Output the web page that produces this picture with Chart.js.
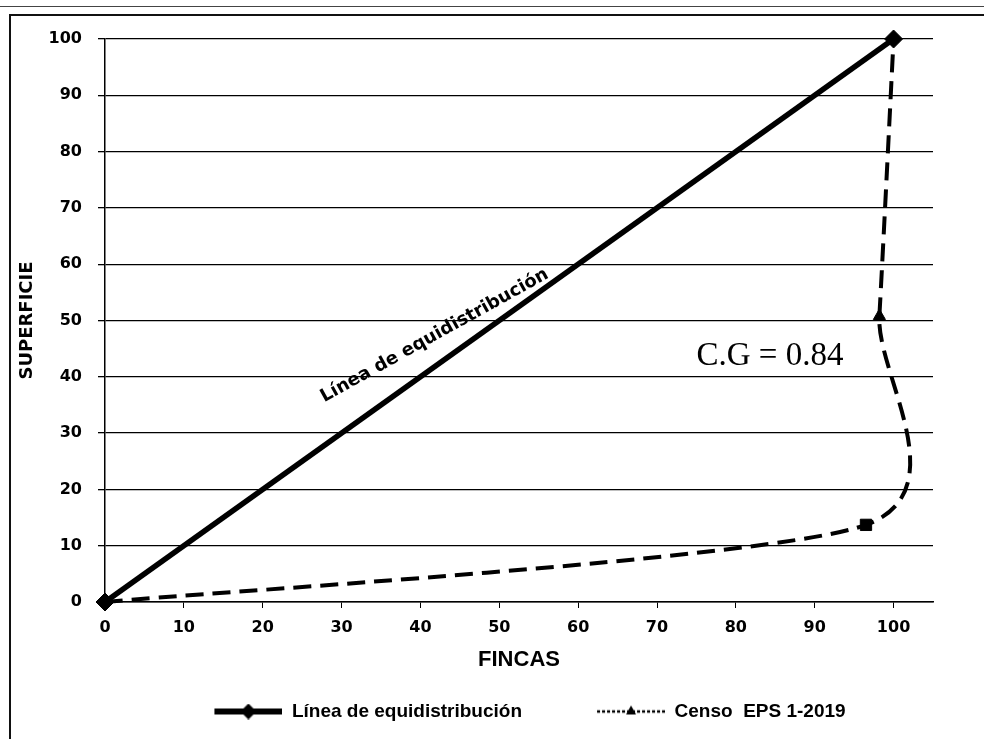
<!DOCTYPE html>
<html>
<head>
<meta charset="utf-8">
<script src="https://cdn.jsdelivr.net/npm/chart.js"></script>
<style>
    html, body { margin: 0; padding: 0; background: #fff; }
    #wrap { position: relative; width: 984px; height: 739px; overflow: hidden; }
    #frame { position: absolute; left: 9px; top: 14px; right: -5px; bottom: -5px;
             border-left: 2px solid #111; border-top: 2px solid #111; }
    #topline { position: absolute; left: 0; right: 0; top: 6px; border-top: 1px solid #444; }
    canvas { position: absolute; left: 0; top: 0; }
</style>
</head>
<body>
<div id="wrap">
    <div id="topline"></div>
    <div id="frame"></div>
    <canvas id="lorenz" width="984" height="739"></canvas>
</div>

<script>
    // Curva de Lorenz
    const equiX = [0, 100];
    const equiY = [0, 100];
    const censoX = [0, 96.5, 98.2, 100];
    const censoY = [0, 13.7, 50.8, 100];
    const seriesNames = ['Línea de equidistribución', 'Censo  EPS 1-2019'];
    const xTitle = 'FINCAS';
    const yTitle = 'SUPERFICIE';
    const giniText = 'C.G = 0.84';

    const SMOOTH = 0.12;   // Excel-like smoothing factor (uniform Catmull-Rom)

    const toPoints = (xs, ys) => xs.map((x, i) => ({ x: x, y: ys[i] }));

    // legend icons: line sample with marker in the middle
    function legendIcon(dashed) {
        const c = document.createElement('canvas');
        c.width = 125;
        c.height = 16;
        const ctx = c.getContext('2d');
        ctx.strokeStyle = '#000';
        ctx.fillStyle = '#000';
        if (dashed) {
            ctx.lineWidth = 2.5;
            ctx.setLineDash([3, 2]);
        } else {
            ctx.lineWidth = 6;
        }
        ctx.beginPath();
        ctx.moveTo(57, 8);
        ctx.lineTo(125, 8);
        ctx.stroke();
        ctx.setLineDash([]);
        ctx.beginPath();
        if (dashed) {
            ctx.moveTo(91, 2); ctx.lineTo(96, 11); ctx.lineTo(86, 11);
        } else {
            ctx.moveTo(91, 0); ctx.lineTo(99, 8); ctx.lineTo(91, 16); ctx.lineTo(83, 8);
        }
        ctx.closePath();
        ctx.fill();
        return c;
    }
    const legendIcons = [legendIcon(false), legendIcon(true)];

    // smoothing like the spreadsheet: control points from neighbours
    const excelSmooth = {
        id: 'excelSmooth',
        beforeDatasetDraw(chart, args) {
            if (args.index !== 1) return;
            const line = args.meta.dataset;
            line.updateControlPoints(chart.chartArea, 'x');
            const pts = args.meta.data;
            for (let i = 0; i < pts.length; i++) {
                const prev = pts[i - 1] || pts[i];
                const next = pts[i + 1] || pts[i];
                const dx = next.x - prev.x, dy = next.y - prev.y;
                pts[i].cp1x = pts[i].x - SMOOTH * dx;
                pts[i].cp1y = pts[i].y - SMOOTH * dy;
                pts[i].cp2x = pts[i].x + SMOOTH * dx;
                pts[i].cp2y = pts[i].y + SMOOTH * dy;
            }
        }
    };

    const moveLegend = {
        id: 'moveLegend',
        afterLayout(chart) {
            const lg = chart.legend;
            lg.left += 30; lg.right += 30;
            lg.top += 2; lg.bottom += 2;
        }
    };

    const annotations = {
        id: 'annotations',
        afterDatasetsDraw(chart) {
            const ctx = chart.ctx;
            const xs = chart.scales.x, ys = chart.scales.y;
            ctx.save();
            ctx.fillStyle = '#000';
            ctx.translate(xs.getPixelForValue(41.8), ys.getPixelForValue(47.3));
            ctx.rotate(-29 * Math.PI / 180);
            ctx.font = 'bold 18px "DejaVu Sans"';
            ctx.textAlign = 'center';
            ctx.textBaseline = 'middle';
            ctx.fillText(seriesNames[0], 0, 0);
            ctx.restore();

            ctx.save();
            ctx.fillStyle = '#000';
            ctx.font = '33px "Liberation Serif"';
            ctx.textAlign = 'left';
            ctx.textBaseline = 'middle';
            ctx.fillText(giniText, xs.getPixelForValue(75.0), ys.getPixelForValue(43.6));
            ctx.restore();
        }
    };

    const tickFont = { family: '"DejaVu Sans"', size: 16, weight: 'bold' };
    const narrowFont = '"Liberation Sans Narrow", "Liberation Sans", sans-serif';

    const config = {
        type: 'scatter',
        data: {
            datasets: [{
                label: seriesNames[0],
                data: toPoints(equiX, equiY),
                showLine: true,
                clip: false,
                borderColor: '#000',
                backgroundColor: '#000',
                borderWidth: 5.5,
                pointStyle: 'rectRot',
                pointRadius: 9,
                pointBorderWidth: 1,
                order: 0
            }, {
                label: seriesNames[1],
                data: toPoints(censoX, censoY),
                showLine: true,
                clip: false,
                borderColor: '#000',
                backgroundColor: '#000',
                borderWidth: 4,
                borderDash: [18, 9],
                tension: 0.4,
                capBezierPoints: false,
                pointStyle: ['triangle', 'rect', 'triangle', 'triangle'],
                pointRadius: [6, 8, 7, 6],
                pointBorderWidth: 1,
                order: 1
            }]
        },
        options: {
            responsive: false,
            animation: false,
            layout: { padding: { left: 10, right: 51, top: 39, bottom: 10 } },
            scales: {
                x: {
                    type: 'linear',
                    min: 0,
                    max: 105,
                    ticks: {
                        stepSize: 10,
                        includeBounds: false,
                        color: '#000',
                        font: tickFont,
                        padding: 10
                    },
                    grid: { drawOnChartArea: false, color: '#000', tickLength: 6 },
                    border: { color: '#000', width: 1.5 },
                    title: {
                        display: true,
                        text: xTitle,
                        color: '#000',
                        font: { family: narrowFont, size: 22, weight: 'bold' },
                        padding: { top: 0, bottom: 9 }
                    },
                    afterFit(scale) { scale.height = 80; }
                },
                y: {
                    type: 'linear',
                    min: 0,
                    max: 100,
                    ticks: {
                        stepSize: 10,
                        color: '#000',
                        font: tickFont,
                        padding: 16
                    },
                    grid: { color: '#000', lineWidth: 1.3, tickLength: 7 },
                    border: { color: '#000', width: 1.5 },
                    title: {
                        display: true,
                        text: yTitle,
                        color: '#000',
                        font: { family: '"DejaVu Sans"', size: 18, weight: 'bold' },
                        padding: { top: 7, bottom: 0 }
                    },
                    afterFit(scale) { scale.width = 95; }
                }
            },
            plugins: {
                tooltip: { enabled: false },
                legend: {
                    position: 'bottom',
                    labels: {
                        usePointStyle: true,
                        pointStyleWidth: 125,
                        padding: 18,
                        color: '#000',
                        font: { family: narrowFont, size: 19, weight: 'bold' },
                        generateLabels(chart) {
                            const items = Chart.defaults.plugins.legend.labels.generateLabels(chart);
                            items.forEach((it, i) => { it.pointStyle = legendIcons[i]; });
                            return items;
                        }
                    }
                }
            }
        },
        plugins: [excelSmooth, moveLegend, annotations]
    };

    new Chart(document.getElementById('lorenz'), config);
</script>
</body>
</html>
